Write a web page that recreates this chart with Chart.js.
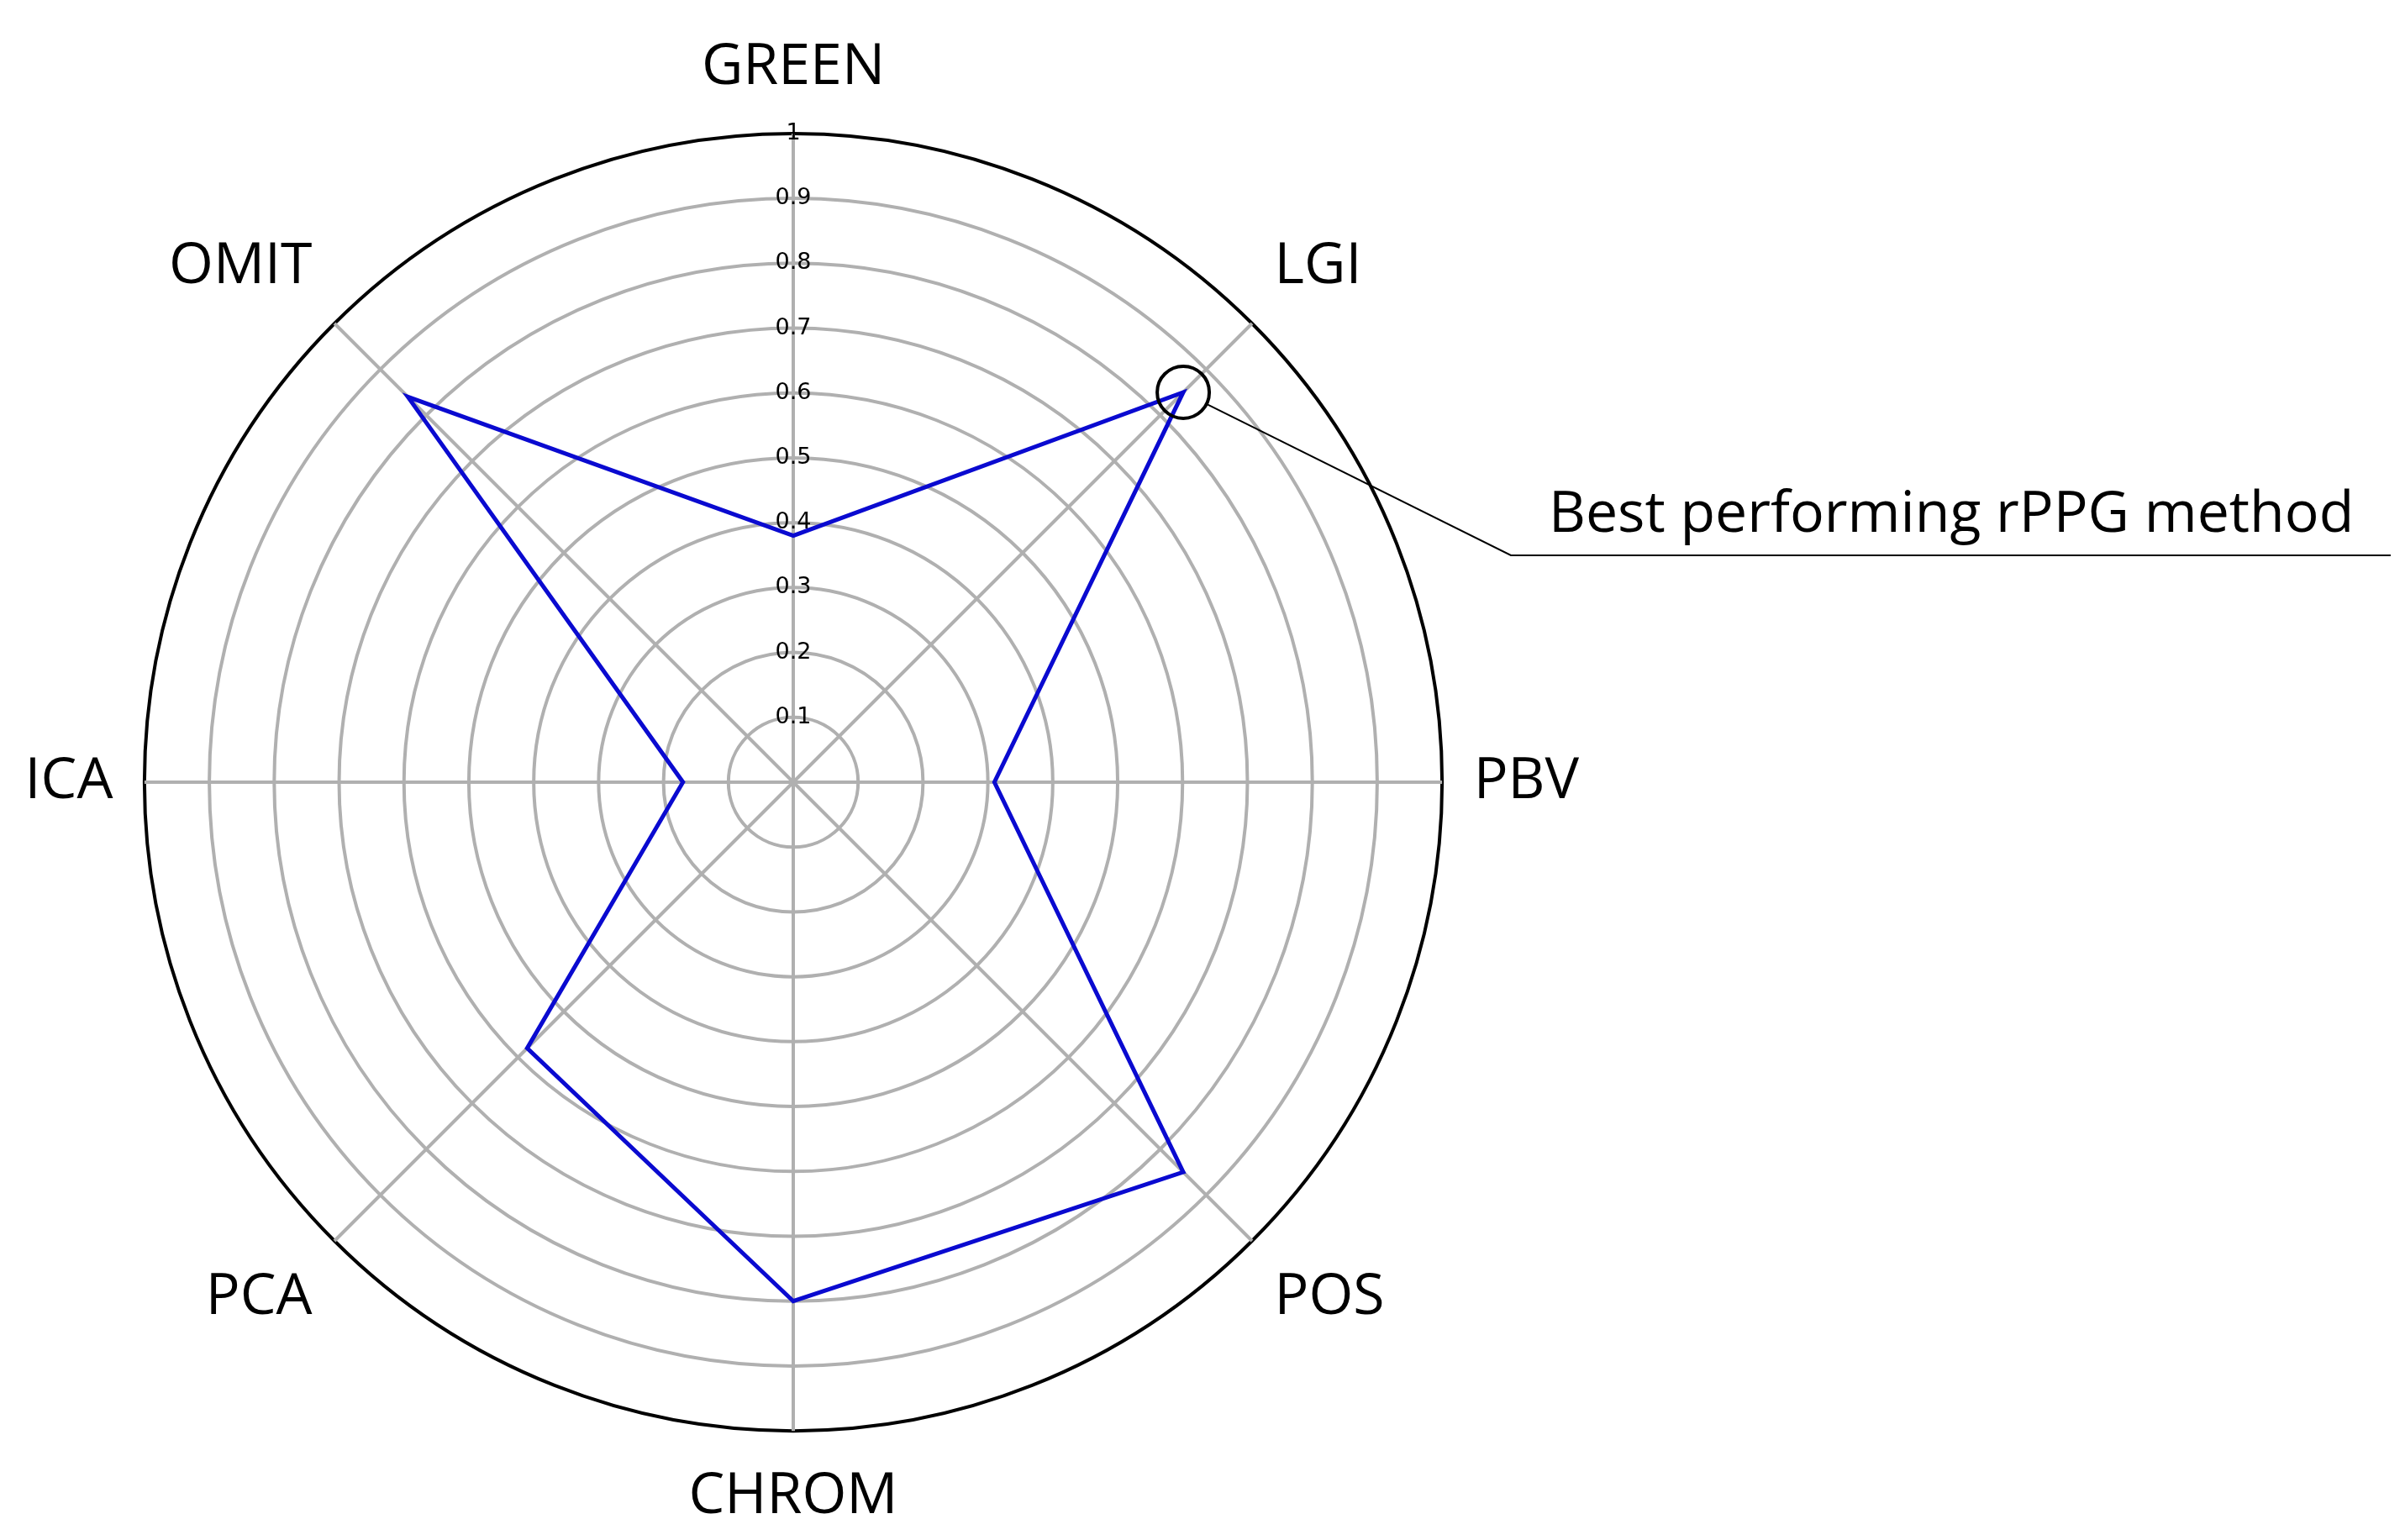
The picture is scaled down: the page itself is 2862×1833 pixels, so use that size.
<!DOCTYPE html>
<html>
<head>
<meta charset="utf-8">
<script src="https://cdn.jsdelivr.net/npm/chart.js@4"></script>
<style>
  html, body { margin: 0; padding: 0; background: #fff; }
  #wrap { width: 2862px; height: 1833px; }
</style>
</head>
<body>
<div id="wrap"><canvas id="radar"></canvas></div>
<script>
var methods = ["GREEN", "LGI", "PBV", "POS", "CHROM", "PCA", "ICA", "OMIT"];
var scores = [0.38, 0.85, 0.31, 0.85, 0.80, 0.58, 0.17, 0.84];
var bestLabel = "Best performing rPPG method";

// circle + leader line pointing at the best method
var annotate = {
    id: "annotate",
    afterDraw: function (chart) {
        var r = chart.scales.r;
        var best = scores.indexOf(Math.max.apply(null, scores));
        var p = r.getPointPositionForValue(best, scores[best]);
        var ctx = chart.ctx;
        ctx.save();
        ctx.strokeStyle = "#000";
        ctx.lineWidth = 4;
        ctx.beginPath();
        ctx.arc(p.x, p.y, 31, 0, Math.PI * 2);
        ctx.stroke();
        ctx.lineWidth = 2;
        var ang = Math.atan2(100, 200);
        ctx.beginPath();
        ctx.moveTo(p.x + 31 * Math.cos(ang), p.y + 31 * Math.sin(ang));
        ctx.lineTo(1798, 661);
        ctx.lineTo(2845, 661);
        ctx.stroke();
        ctx.fillStyle = "#000";
        ctx.font = "68px 'Open Sans', 'DejaVu Sans', sans-serif";
        ctx.textBaseline = "alphabetic";
        ctx.fillText(bestLabel, 1843, 633);
        ctx.restore();
    }
};

new Chart(document.getElementById("radar"), {
    type: "radar",
    data: {
        labels: methods,
        datasets: [{
            data: scores,
            borderColor: "#0a0ad0",
            borderWidth: 5,
            fill: false,
            pointRadius: 0,
            tension: 0
        }]
    },
    options: {
        responsive: true,
        maintainAspectRatio: false,
        animation: false,
        layout: { padding: { left: 20, right: 972, top: 30, bottom: 0 } },
        plugins: { legend: { display: false }, tooltip: { enabled: false } },
        scales: {
            r: {
                min: 0,
                max: 1,
                ticks: {
                    stepSize: 0.1,
                    color: "#000",
                    font: { size: 27, family: "'DejaVu Sans', sans-serif" },
                    showLabelBackdrop: false,
                    callback: function (v) { return v === 0 ? "" : String(Math.round(v * 10) / 10); },
                    z: 1
                },
                grid: {
                    circular: true,
                    lineWidth: 4,
                    color: function (c) { return c.index === 10 ? "#000" : "#b0b0b0"; }
                },
                angleLines: { color: "#b0b0b0", lineWidth: 4 },
                pointLabels: {
                    color: "#000",
                    padding: 22,
                    font: { size: 68, family: "'Open Sans', 'DejaVu Sans', sans-serif" }
                }
            }
        }
    },
    plugins: [annotate]
});
</script>
</body>
</html>
